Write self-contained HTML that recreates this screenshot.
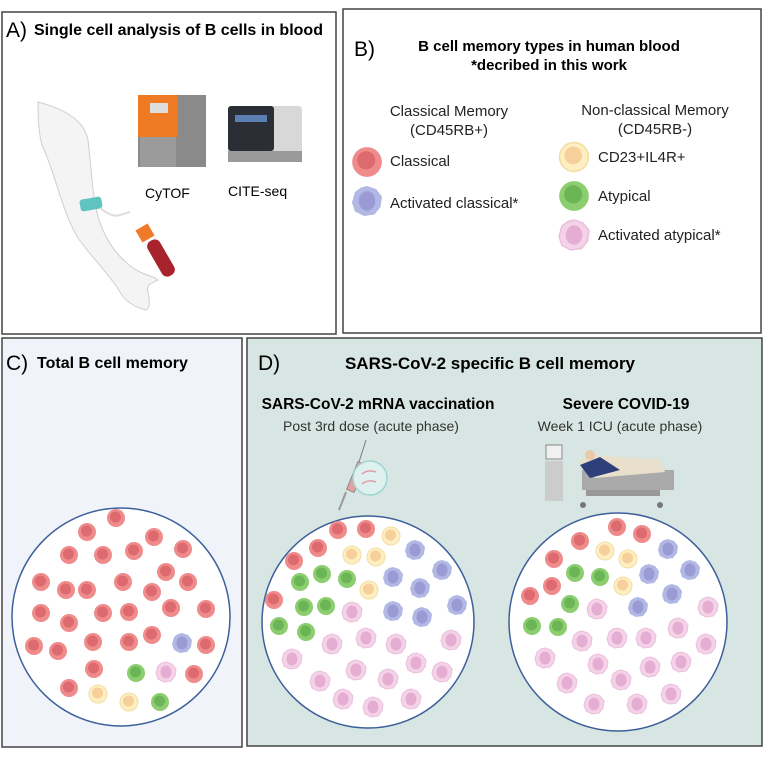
<!DOCTYPE html>
<html><head><meta charset="utf-8"><style>
body{margin:0;background:#fff;}
svg{display:block;font-family:"Liberation Sans",sans-serif;}
</style></head><body>
<svg width="768" height="768" viewBox="0 0 768 768" xmlns="http://www.w3.org/2000/svg">
<defs>
<g id="r"><circle r="9" fill="#ef8b8b"/><circle cx="-0.5" cy="-1" r="5.5" fill="#dc6a6e"/></g>
<g id="g"><circle r="9" fill="#8ccd70"/><circle cx="-0.5" cy="-1" r="5.5" fill="#6cb557"/></g>
<g id="y"><circle r="9" fill="#fdefc2" stroke="#f3dea0" stroke-width="1"/><circle cx="-0.5" cy="-1" r="5.5" fill="#f6cf9b"/></g>
<g id="b"><polygon points="0,-10 6,-8 10,-3 9,4 5,9 -2,10 -8,7 -10,1 -8,-6 -4,-9" fill="#b2b8e4"/><ellipse cx="0" cy="0" rx="5.5" ry="6.5" fill="#9a9ad5"/></g>
<g id="p"><polygon points="0,-10 6,-8 10,-3 9,4 5,9 -2,10 -8,7 -10,1 -8,-6 -4,-9" fill="#f4d2e8" stroke="#ebbfdc" stroke-width="1"/><ellipse cx="0" cy="0" rx="5.5" ry="6.5" fill="#e4add1"/></g>
</defs>

<!-- Panel A -->
<rect x="2" y="12" width="334" height="322" fill="#fff" stroke="#444" stroke-width="1.5"/>
<text x="6" y="37" font-size="21">A)</text>
<text x="34" y="35" font-size="16" font-weight="bold">Single cell analysis of B cells in blood</text>
<!-- arm -->
<path d="M38,102 C60,108 84,118 88,140 C92,170 92,205 102,228 C112,252 128,266 140,272 C148,276 156,277 158,280 C152,283 146,284 148,292 C150,302 150,308 146,310 C136,308 126,302 120,292 C110,275 92,258 78,238 C62,212 56,175 42,145 C38,130 38,115 38,102 Z" fill="#f4f4f4" stroke="#cfcfcf" stroke-width="1"/>
<rect x="80" y="198" width="22" height="12" rx="3" fill="#5fc3c0" transform="rotate(-10 91 204)"/>
<path d="M100,208 C115,220 118,215 130,212" fill="none" stroke="#ddd" stroke-width="2"/>
<rect x="154" y="238" width="14" height="40" rx="6" fill="#a8232c" transform="rotate(-30 161 258)"/>
<rect x="138" y="226" width="14" height="14" fill="#ef7a2a" transform="rotate(-30 145 233)"/>
<!-- CyTOF -->
<rect x="138" y="95" width="68" height="72" fill="#8a8a8a"/>
<rect x="138" y="95" width="40" height="42" fill="#ef7a24"/>
<rect x="150" y="103" width="18" height="10" fill="#ddd"/>
<rect x="140" y="137" width="36" height="30" fill="#9b9b9b"/>
<text x="145" y="198" font-size="14">CyTOF</text>
<!-- CITE-seq -->
<rect x="228" y="106" width="74" height="56" rx="4" fill="#d8d8d8"/>
<rect x="228" y="106" width="46" height="45" rx="3" fill="#2b2e35"/>
<rect x="235" y="115" width="32" height="7" fill="#5b7eb3"/>
<rect x="228" y="151" width="74" height="11" fill="#9a9a9a"/>
<text x="228" y="196" font-size="14">CITE-seq</text>

<!-- Panel B -->
<rect x="343" y="9" width="418" height="324" fill="#fff" stroke="#444" stroke-width="1.5"/>
<text x="354" y="56" font-size="21">B)</text>
<text x="549" y="51" font-size="15" font-weight="bold" text-anchor="middle">B cell memory types in human blood</text>
<text x="549" y="70" font-size="15" font-weight="bold" text-anchor="middle">*decribed in this work</text>
<text x="449" y="116" font-size="15" text-anchor="middle" fill="#222">Classical Memory</text>
<text x="449" y="135" font-size="15" text-anchor="middle" fill="#222">(CD45RB+)</text>
<text x="655" y="115" font-size="15" text-anchor="middle" fill="#222">Non-classical Memory</text>
<text x="655" y="134" font-size="15" text-anchor="middle" fill="#222">(CD45RB-)</text>
<use href="#r" transform="translate(367,162) scale(1.65)"/>
<use href="#b" transform="translate(367,201) scale(1.5)"/>
<use href="#y" transform="translate(574,157) scale(1.6)"/>
<use href="#g" transform="translate(574,196) scale(1.65)"/>
<use href="#p" transform="translate(574,235) scale(1.5)"/>
<text x="390" y="166" font-size="15" fill="#222">Classical</text>
<text x="390" y="208" font-size="15" fill="#222">Activated classical*</text>
<text x="598" y="162" font-size="15" fill="#222">CD23+IL4R+</text>
<text x="598" y="201" font-size="15" fill="#222">Atypical</text>
<text x="598" y="240" font-size="15" fill="#222">Activated atypical*</text>

<!-- Panel C -->
<rect x="2" y="338" width="240" height="409" fill="#f0f4fa" stroke="#444" stroke-width="1.5"/>
<text x="6" y="370" font-size="21">C)</text>
<text x="37" y="368" font-size="16" font-weight="bold">Total B cell memory</text>
<circle cx="121" cy="617" r="109" fill="#fff" stroke="#3d5f9a" stroke-width="1.5"/>
<g>
<use href="#r" x="116" y="518"/><use href="#r" x="87" y="532"/><use href="#r" x="154" y="537"/><use href="#r" x="183" y="549"/>
<use href="#r" x="69" y="555"/><use href="#r" x="103" y="555"/><use href="#r" x="134" y="551"/><use href="#r" x="166" y="572"/>
<use href="#r" x="41" y="582"/><use href="#r" x="66" y="590"/><use href="#r" x="87" y="590"/><use href="#r" x="123" y="582"/>
<use href="#r" x="152" y="592"/><use href="#r" x="188" y="582"/><use href="#r" x="41" y="613"/><use href="#r" x="69" y="623"/>
<use href="#r" x="103" y="613"/><use href="#r" x="129" y="612"/><use href="#r" x="171" y="608"/><use href="#r" x="206" y="609"/>
<use href="#r" x="34" y="646"/><use href="#r" x="58" y="651"/><use href="#r" x="93" y="642"/><use href="#r" x="129" y="642"/>
<use href="#r" x="152" y="635"/><use href="#b" x="182" y="643"/><use href="#r" x="206" y="645"/><use href="#r" x="94" y="669"/>
<use href="#g" x="136" y="673"/><use href="#p" x="166" y="672"/><use href="#r" x="194" y="674"/><use href="#r" x="69" y="688"/>
<use href="#y" x="98" y="694"/><use href="#y" x="129" y="702"/><use href="#g" x="160" y="702"/>
</g>

<!-- Panel D -->
<rect x="247" y="338" width="515" height="408" fill="#d8e6e3" stroke="#444" stroke-width="1.5"/>
<text x="258" y="370" font-size="21">D)</text>
<text x="490" y="369" font-size="17" font-weight="bold" text-anchor="middle">SARS-CoV-2 specific B cell memory</text>
<text x="378" y="409" font-size="15.5" font-weight="bold" text-anchor="middle">SARS-CoV-2 mRNA vaccination</text>
<text x="371" y="431" font-size="14" text-anchor="middle" fill="#333">Post 3rd dose (acute phase)</text>
<text x="626" y="409" font-size="15.5" font-weight="bold" text-anchor="middle">Severe COVID-19</text>
<text x="620" y="431" font-size="14" text-anchor="middle" fill="#333">Week 1 ICU (acute phase)</text>
<!-- syringe -->
<line x1="366" y1="440" x2="359" y2="462" stroke="#777" stroke-width="1"/>
<rect x="352" y="462" width="8" height="30" fill="#e7a0a0" stroke="#888" transform="rotate(22 356 477)"/>
<line x1="346" y1="492" x2="339" y2="510" stroke="#999" stroke-width="2"/>
<circle cx="370" cy="478" r="17" fill="#dff0f0" stroke="#9fd6cf" stroke-width="1.5"/>
<path d="M362,474 q6,-5 14,-2 M362,484 q6,-5 14,-2" stroke="#e49aa8" fill="none" stroke-width="1.5"/>
<!-- ICU -->
<rect x="546" y="445" width="16" height="14" fill="#f0f0f0" stroke="#888"/>
<rect x="545" y="461" width="18" height="40" fill="#ccc"/>
<rect x="582" y="470" width="92" height="20" fill="#aaa"/>
<path d="M578,462 L590,455 L660,460 L665,472 L595,478 Z" fill="#e9e0cc"/>
<path d="M580,465 L600,457 L620,470 L590,478 Z" fill="#2f3f7a"/>
<circle cx="590" cy="455" r="5" fill="#e8c9a8"/>
<circle cx="583" cy="505" r="3" fill="#777"/><circle cx="660" cy="505" r="3" fill="#777"/>
<rect x="586" y="490" width="74" height="6" fill="#999"/>

<circle cx="368" cy="622" r="106" fill="#fff" stroke="#3d5f9a" stroke-width="1.5"/>
<g>
<use href="#r" x="338" y="530"/><use href="#r" x="366" y="529"/><use href="#y" x="391" y="536"/><use href="#r" x="318" y="548"/>
<use href="#y" x="352" y="555"/><use href="#y" x="376" y="557"/><use href="#b" x="415" y="550"/><use href="#r" x="294" y="561"/>
<use href="#g" x="322" y="574"/><use href="#g" x="300" y="582"/><use href="#g" x="347" y="579"/><use href="#b" x="393" y="577"/>
<use href="#b" x="442" y="570"/><use href="#y" x="369" y="590"/><use href="#b" x="420" y="588"/><use href="#r" x="274" y="600"/>
<use href="#g" x="304" y="607"/><use href="#g" x="326" y="606"/><use href="#p" x="352" y="612"/><use href="#b" x="393" y="611"/>
<use href="#b" x="422" y="617"/><use href="#b" x="457" y="605"/><use href="#g" x="279" y="626"/><use href="#g" x="306" y="632"/>
<use href="#p" x="332" y="644"/><use href="#p" x="366" y="638"/><use href="#p" x="396" y="644"/><use href="#p" x="451" y="640"/>
<use href="#p" x="292" y="659"/><use href="#p" x="356" y="670"/><use href="#p" x="416" y="663"/><use href="#p" x="442" y="672"/>
<use href="#p" x="320" y="681"/><use href="#p" x="388" y="679"/><use href="#p" x="343" y="699"/><use href="#p" x="373" y="707"/>
<use href="#p" x="411" y="699"/>
</g>

<circle cx="618" cy="622" r="109" fill="#fff" stroke="#3d5f9a" stroke-width="1.5"/>
<g>
<use href="#r" x="617" y="527"/><use href="#r" x="642" y="534"/><use href="#r" x="580" y="541"/><use href="#y" x="605" y="551"/>
<use href="#b" x="668" y="549"/><use href="#r" x="554" y="559"/><use href="#y" x="628" y="559"/><use href="#g" x="575" y="573"/>
<use href="#g" x="600" y="577"/><use href="#b" x="649" y="574"/><use href="#b" x="690" y="570"/><use href="#r" x="552" y="586"/>
<use href="#y" x="623" y="586"/><use href="#b" x="672" y="594"/><use href="#r" x="530" y="596"/><use href="#g" x="570" y="604"/>
<use href="#p" x="597" y="609"/><use href="#b" x="638" y="607"/><use href="#p" x="708" y="607"/><use href="#g" x="532" y="626"/>
<use href="#g" x="558" y="627"/><use href="#p" x="582" y="641"/><use href="#p" x="617" y="638"/><use href="#p" x="646" y="638"/>
<use href="#p" x="678" y="628"/><use href="#p" x="706" y="644"/><use href="#p" x="545" y="658"/><use href="#p" x="598" y="664"/>
<use href="#p" x="650" y="667"/><use href="#p" x="681" y="662"/><use href="#p" x="621" y="680"/><use href="#p" x="567" y="683"/>
<use href="#p" x="594" y="704"/><use href="#p" x="637" y="704"/><use href="#p" x="671" y="694"/>
</g>
</svg>
</body></html>
